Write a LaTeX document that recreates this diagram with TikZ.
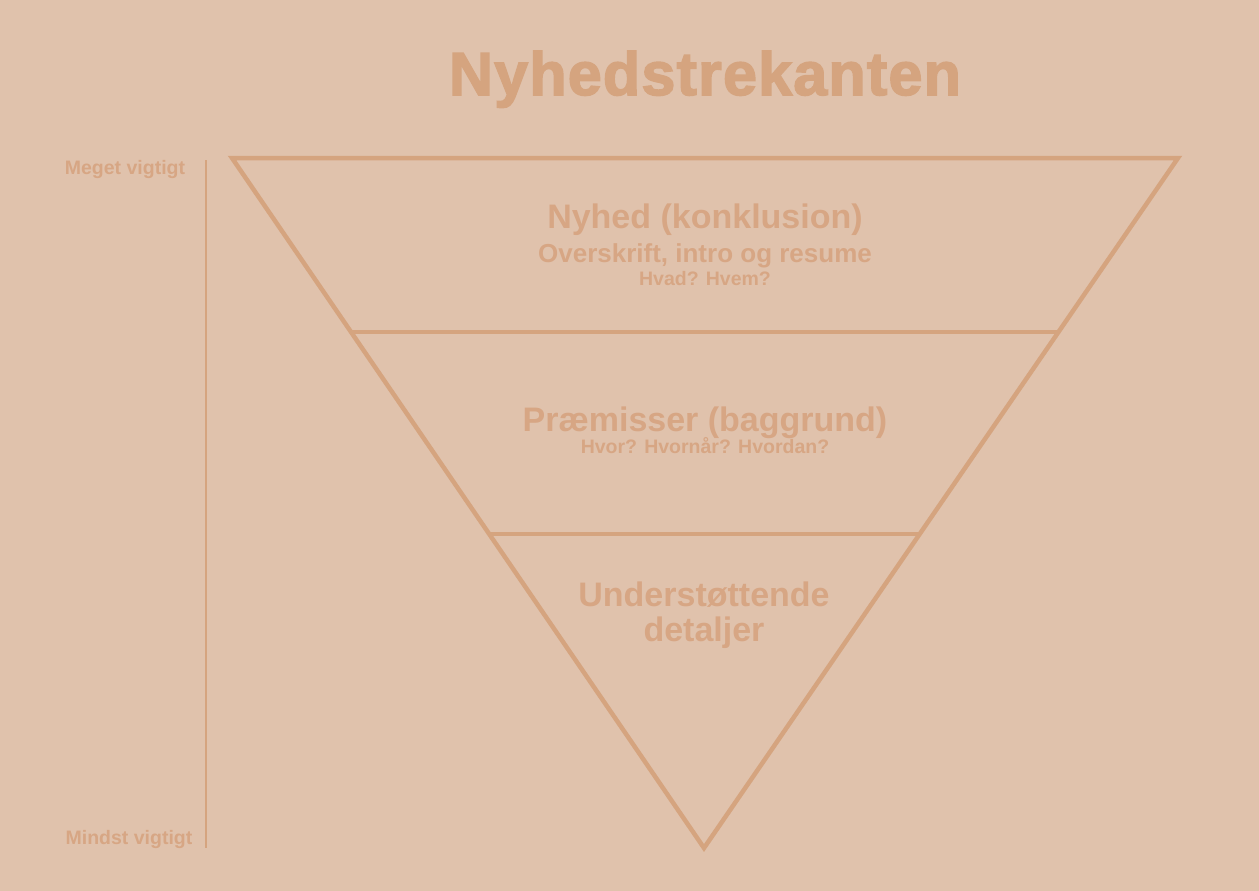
\documentclass[tikz,border=0pt]{standalone}
\usepackage{fontspec}
\setmainfont{Liberation Sans}
\newfontfamily\titlefont{Liberation Sans Bold}[FakeBold=2.5,LetterSpace=2]
\definecolor{bg}{HTML}{E0C2AC}
\definecolor{ln}{HTML}{D5A47F}
\definecolor{tx}{HTML}{D7A684}
\begin{document}
\begin{tikzpicture}[x=1pt,y=-1pt,
  lbl/.style={anchor=base,text=tx,font=\bfseries,inner sep=0pt},
  tri/.style={draw=ln,line width=4.5pt,line join=miter},
  band/.style={draw=ln,line width=4pt}]
\fill[bg] (0,0) rectangle (1259,891);
\useasboundingbox (0,0) rectangle (1259,891);
% triangle
\coordinate (tl) at (232,158);
\coordinate (tr) at (1178,158);
\coordinate (bt) at (704,848);
\draw[tri] (tl) -- (tr) -- (bt) -- cycle;
\path (tl) -- (bt) coordinate[pos=0.2522] (a1);
\path (tr) -- (bt) coordinate[pos=0.2522] (a2);
\path (tl) -- (bt) coordinate[pos=0.5449] (b1);
\path (tr) -- (bt) coordinate[pos=0.5449] (b2);
\draw[band] (a1) -- (a2);
\draw[band] (b1) -- (b2);
% scale line
\coordinate (s1) at (206,160);
\coordinate (s2) at (206,848);
\draw[draw=ln,line width=2.5pt] (s1) -- (s2);
% texts
\node[lbl,text=ln,font=\fontsize{61}{70}\titlefont] (title) at (705,95) {Nyhedstrekanten};
\node[lbl,font=\fontsize{34}{40}\selectfont\bfseries] (n1) at (705,228) {Nyhed (konklusion)};
\node[lbl,font=\fontsize{26}{30}\selectfont\bfseries] (n2) at (705,262) {Overskrift, intro og resume};
\node[lbl,font=\fontsize{19.5}{22}\selectfont\bfseries] (n3) at (705,285) {Hvad? Hvem?};
\node[lbl,font=\fontsize{34}{40}\selectfont\bfseries] (p1) at (705,431) {Præmisser (baggrund)};
\node[lbl,font=\fontsize{19.5}{22}\selectfont\bfseries] (p2) at (705,453) {Hvor? Hvornår? Hvordan?};
\node[lbl,font=\fontsize{34}{40}\selectfont\bfseries] (u1) at (704,606) {Understøttende};
\node[lbl,font=\fontsize{34}{40}\selectfont\bfseries] (u2) at (704,641) {detaljer};
\node[lbl,font=\fontsize{19.5}{22}\selectfont\bfseries] (top) at (125,174) {Meget vigtigt};
\node[lbl,font=\fontsize{19.5}{22}\selectfont\bfseries] (bot) at (129,844) {Mindst vigtigt};
\end{tikzpicture}
\end{document}
